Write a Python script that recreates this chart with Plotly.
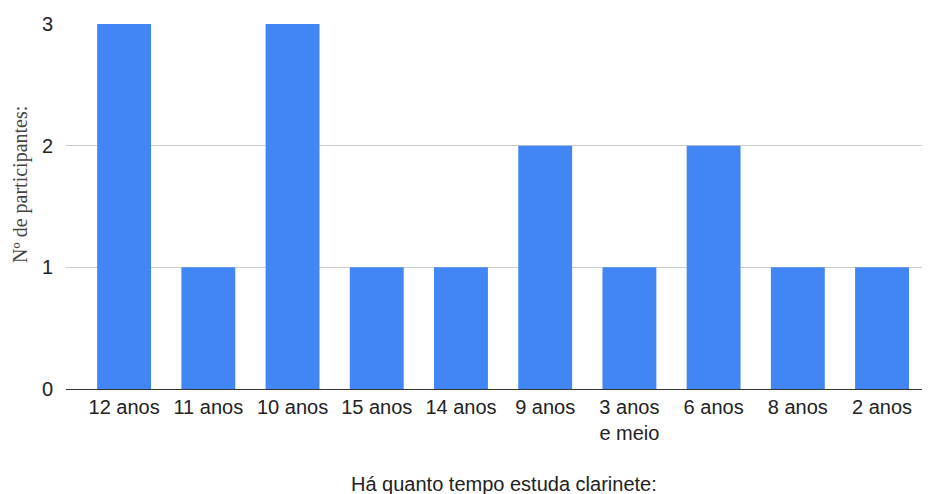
import plotly.graph_objects as go

# -------------------------------------------------------
# Data
# -------------------------------------------------------
categories = ["12 anos", "11 anos", "10 anos", "15 anos", "14 anos",
              "9 anos", "3 anos<br>e meio", "6 anos", "8 anos", "2 anos"]
participantes = [3, 1, 3, 1, 1, 2, 1, 2, 1, 1]
y_ticks = [0, 1, 2, 3]

# page has an 8px body margin, so the figure is a bit smaller than the window
W, H = 922, 486

fig = go.Figure()

fig.add_trace(
    go.Bar(
        x=list(range(len(categories))),
        y=participantes,
        marker=dict(color="#4285F4", line=dict(width=0)),
        width=0.64,
        name="",
    )
)

fig.update_layout(
    width=W,
    height=H,
    margin=dict(l=58, r=5, t=16, b=105),
    paper_bgcolor="white",
    plot_bgcolor="white",
    showlegend=False,
    font=dict(family="Arial, Liberation Sans, sans-serif", size=20, color="#222222"),
)

fig.update_xaxes(
    tickmode="array",
    tickvals=list(range(len(categories))),
    ticktext=categories,
    range=[-0.69, 9.51],
    automargin=False,
    showgrid=False,
    showline=True,
    linecolor="#333333",
    linewidth=1,
    ticks="",
    tickfont=dict(size=20, color="#222222"),
)

fig.update_yaxes(
    range=[0, 3],
    tickmode="array",
    tickvals=y_ticks,
    automargin=False,
    showgrid=True,
    gridcolor="#cccccc",
    gridwidth=1,
    zeroline=False,
    ticks="",
    ticklabelstandoff=12,
    tickfont=dict(size=20, color="#222222"),
)

# Axis titles (Google-Charts style placement)
fig.add_annotation(
    text="Há quanto tempo estuda clarinete:",
    xref="paper", yref="paper",
    x=0.5, y=0,
    xshift=8, yshift=-95,
    xanchor="center", yanchor="middle",
    showarrow=False,
    font=dict(size=20, color="#222222"),
)
fig.add_annotation(
    text="Nº de participantes:",
    xref="paper", yref="paper",
    x=0, y=0.559,
    xshift=-45,
    xanchor="center", yanchor="middle",
    textangle=-90,
    showarrow=False,
    font=dict(family="Liberation Serif, Times New Roman, serif", size=20, color="#444444"),
)

fig.write_html("out.html")
